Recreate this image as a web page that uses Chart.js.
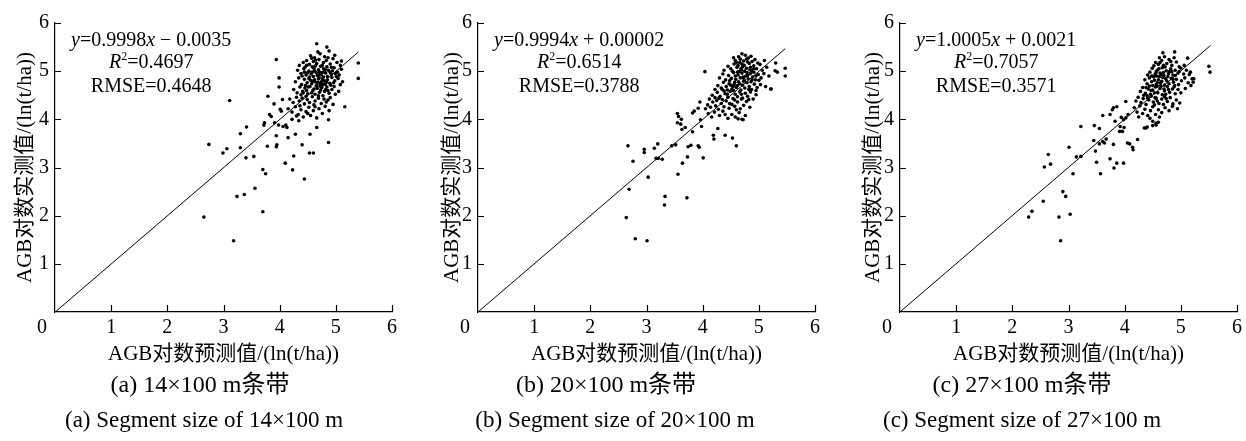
<!DOCTYPE html>
<html>
<head>
<meta charset="utf-8">
<title>AGB scatter</title>
<script src="https://cdn.jsdelivr.net/npm/chart.js@4.4.1/dist/chart.umd.min.js"></script>
<style>
  body { margin: 0; background: #fff; width: 1246px; height: 441px; position: relative; overflow: hidden;
         font-family: 'Liberation Serif', 'Noto Sans CJK SC', serif; color: #000; }
  canvas { position: absolute; top: 0; }
  .cap { position: absolute; transform: translateX(-50%); white-space: nowrap; line-height: 26px; }
  .cn { font-size: 24px; }
  .en { font-size: 23px; }
</style>
</head>
<body>
<canvas id="c0" width="401" height="372" style="left:0px"></canvas>
<canvas id="c1" width="401" height="372" style="left:423px"></canvas>
<canvas id="c2" width="401" height="372" style="left:845px"></canvas>

<div class="cap cn" style="left:200px; top:371px">(a) 14×100 m条带</div>
<div class="cap en" style="left:204px; top:407px">(a) Segment size of 14×100 m</div>
<div class="cap cn" style="left:606px; top:371px">(b) 20×100 m条带</div>
<div class="cap en" style="left:615px; top:407px">(b) Segment size of 20×100 m</div>
<div class="cap cn" style="left:1022px; top:371px">(c) 27×100 m条带</div>
<div class="cap en" style="left:1022px; top:407px">(c) Segment size of 27×100 m</div>

<script>
// axes
const xTicks = [0, 1, 2, 3, 4, 5, 6];
const yTicks = [0, 1, 2, 3, 4, 5, 6];
const xTitle = 'AGB对数预测值/(ln(t/ha))';
const yTitle = 'AGB对数实测值/(ln(t/ha))';

// fitted line y = slope*x + intercept, and stats
const slopes = [0.9998, 0.9994, 1.0005];
const intercepts = [-0.0035, 0.00002, 0.0021];
const r2Text = ['0.4697', '0.6514', '0.7057'];
const rmseText = ['0.4648', '0.3788', '0.3571'];
const lineEnd = [5.40, 5.47, 5.53];

// 14x100 m segments: [predicted, measured]
const ptsA = [
  [2.65,1.97],[3.18,1.48],[2.74,3.48],[2.99,3.30],[3.06,3.39],[3.11,4.39],[3.30,3.70],[3.41,3.84],[3.30,3.41],[3.40,3.20],
  [3.54,3.23],[3.24,2.40],[3.37,2.44],[3.56,2.57],[3.70,2.08],[3.70,2.96],[3.75,2.87],[3.72,3.88],[3.73,3.93],[3.79,4.48],
  [3.78,3.44],[3.82,4.10],[3.85,4.06],[3.94,5.24],[3.99,4.86],[3.99,4.67],[3.90,4.32],[3.91,3.93],[3.94,3.66],[3.95,3.47],
  [3.94,3.43],[3.98,3.88],[4.01,4.21],[4.05,4.41],[4.03,4.17],[4.06,3.85],[4.11,3.88],[4.13,3.83],[4.15,3.62],[4.10,3.09],
  [4.23,2.95],[4.25,3.24],[4.28,3.69],[4.30,4.07],[4.22,4.00],[4.34,3.97],[4.40,3.47],[4.44,2.76],[4.53,3.30],[4.60,3.30],
  [4.54,3.69],[4.66,3.83],[4.87,3.52],[4.87,3.99],[5.16,4.26],[5.40,5.17],[5.40,4.85],[5.10,5.21],[4.66,5.57],[4.84,5.50],
  [4.55,5.32],[4.62,5.28],[4.72,5.36],[4.80,5.30],[4.88,5.42],[4.98,5.33],[4.68,5.40],
  [4.35,5.12],[4.42,5.18],[4.48,5.22],[4.53,5.14],[4.60,5.20],[4.66,5.16],[4.70,5.24],[4.76,5.12],[4.83,5.22],[4.90,5.15],
  [4.95,5.26],[5.02,5.18],[4.45,5.08],[4.57,5.27],[4.73,5.10],[4.86,5.28],[5.08,5.12],[4.64,5.11],
  [4.32,5.02],[4.38,4.95],[4.43,5.05],[4.47,4.92],[4.52,5.00],[4.56,4.94],[4.61,5.06],[4.65,4.97],[4.69,5.03],[4.74,4.92],
  [4.78,5.05],[4.82,4.96],[4.87,5.02],[4.92,4.93],[4.97,5.07],[5.03,4.98],[5.10,5.04],[4.40,4.90],[4.58,5.09],[4.71,4.98],
  [4.84,5.09],[4.99,4.95],[4.50,4.97],[4.67,4.91],[4.80,4.99],[4.94,5.01],[5.06,4.92],
  [4.28,4.78],[4.34,4.86],[4.39,4.72],[4.44,4.83],[4.49,4.76],[4.53,4.88],[4.57,4.74],[4.62,4.82],[4.66,4.71],[4.70,4.86],
  [4.74,4.78],[4.78,4.88],[4.81,4.73],[4.85,4.82],[4.89,4.75],[4.93,4.87],[4.98,4.80],[5.04,4.85],[5.12,4.78],[4.46,4.70],
  [4.60,4.89],[4.68,4.77],[4.76,4.84],[4.83,4.77],[4.91,4.71],[4.72,4.74],[4.63,4.78],[4.79,4.80],[4.55,4.81],[5.08,4.72],
  [4.25,4.62],[4.31,4.55],[4.36,4.67],[4.41,4.58],[4.45,4.65],[4.50,4.53],[4.54,4.68],[4.59,4.60],[4.63,4.52],[4.67,4.64],
  [4.71,4.56],[4.75,4.66],[4.80,4.58],[4.84,4.67],[4.88,4.54],[4.93,4.62],[4.97,4.68],[5.05,4.58],[4.38,4.51],[4.48,4.60],
  [4.57,4.55],[4.73,4.61],[4.86,4.60],[4.99,4.52],[4.65,4.69],
  [4.18,4.42],[4.24,4.35],[4.30,4.46],[4.35,4.38],[4.40,4.44],[4.44,4.32],[4.49,4.41],[4.53,4.35],[4.58,4.47],[4.63,4.38],
  [4.69,4.44],[4.74,4.33],[4.79,4.42],[4.83,4.36],[4.90,4.45],[4.95,4.31],[4.47,4.48],[4.61,4.30],[4.77,4.49],[4.86,4.40],
  [4.15,4.22],[4.22,4.15],[4.28,4.26],[4.33,4.10],[4.38,4.20],[4.42,4.05],[4.47,4.16],[4.52,4.25],[4.55,4.08],[4.60,4.18],
  [4.66,4.03],[4.70,4.22],[4.76,4.12],[4.81,4.27],[4.88,4.18],[4.50,4.12],[4.36,4.28],[4.63,4.26],
  [4.58,4.98],[4.62,5.01],[4.70,4.93],[4.76,4.97],[4.81,5.03],[4.52,4.85],[4.59,4.79],[4.69,4.84],[4.77,4.72],[4.85,4.89],
  [4.90,4.97],[4.44,4.98],[4.48,5.12],[4.64,5.23],[4.78,5.18],[4.92,5.08],[5.01,4.89],[4.96,4.76],[4.73,4.68],[4.51,4.67],
  [4.42,4.55],[4.61,4.63],[4.82,4.62],[4.69,4.49]
];

// 20x100 m segments
const ptsB = [
  [2.64,1.96],[2.80,1.52],[3.01,1.48],[2.67,3.45],[2.76,3.13],[2.69,2.55],[2.96,3.38],[2.96,3.31],[3.14,3.40],[3.20,3.49],
  [3.17,3.19],[3.21,3.19],[3.28,3.17],[3.03,2.80],[3.33,2.40],[3.32,2.22],[3.72,2.37],[3.45,3.45],[3.52,3.47],[3.56,2.86],
  [3.64,3.09],[3.73,3.22],[3.74,3.43],[3.79,3.46],[3.92,3.45],[3.94,3.42],[4.01,3.20],[3.55,4.12],[3.57,4.06],[3.62,4.00],
  [3.61,3.90],[3.55,3.93],[3.63,3.79],[3.69,3.83],[3.82,3.74],[3.82,4.13],[3.85,4.17],[3.95,4.36],[3.92,4.23],[3.96,3.99],
  [3.98,3.85],[4.04,4.99],[4.19,3.67],[4.20,3.59],[4.27,3.81],[4.40,3.67],[4.53,3.61],[4.60,3.45],[4.72,3.99],[5.22,4.63],
  [5.29,5.01],[5.33,4.98],[5.47,5.06],[5.47,4.90],[5.30,5.17],
  [4.58,5.22],[4.64,5.30],[4.70,5.36],[4.76,5.33],[4.81,5.27],[4.86,5.31],[4.93,5.24],[4.67,5.25],[4.73,5.21],[4.88,5.20],
  [5.10,5.22],[4.55,5.28],
  [4.38,5.02],[4.45,5.10],[4.50,5.05],[4.56,5.15],[4.61,5.08],[4.66,5.18],[4.69,5.03],[4.74,5.12],[4.78,5.06],[4.83,5.16],
  [4.87,5.01],[4.91,5.11],[4.96,5.05],[5.02,5.14],[5.06,5.02],[5.14,5.08],[4.53,5.00],[4.63,5.12],[4.80,5.19],[4.98,5.17],
  [4.71,5.09],[4.85,5.08],
  [4.30,4.86],[4.36,4.94],[4.41,4.82],[4.46,4.91],[4.51,4.85],[4.55,4.97],[4.59,4.83],[4.63,4.92],[4.67,4.86],[4.70,4.96],
  [4.74,4.81],[4.77,4.90],[4.81,4.84],[4.85,4.95],[4.89,4.88],[4.94,4.82],[4.99,4.93],[5.04,4.86],[5.09,4.95],[5.18,4.90],
  [4.48,4.80],[4.65,4.99],[4.72,4.88],[4.79,4.97],[4.91,4.98],[5.00,4.81],[4.58,4.90],
  [4.22,4.62],[4.27,4.70],[4.33,4.65],[4.37,4.77],[4.42,4.68],[4.47,4.74],[4.52,4.63],[4.56,4.72],[4.60,4.66],[4.64,4.78],
  [4.68,4.61],[4.71,4.71],[4.75,4.65],[4.79,4.76],[4.83,4.68],[4.87,4.62],[4.92,4.73],[4.97,4.66],[5.03,4.72],[5.12,4.68],
  [5.21,4.63],[4.44,4.61],[4.62,4.70],[4.73,4.79],[4.86,4.78],[4.95,4.60],[4.54,4.68],
  [4.12,4.42],[4.17,4.50],[4.22,4.45],[4.26,4.56],[4.31,4.48],[4.35,4.41],[4.40,4.53],[4.45,4.46],[4.49,4.58],[4.54,4.43],
  [4.58,4.52],[4.62,4.47],[4.66,4.57],[4.71,4.44],[4.76,4.54],[4.80,4.48],[4.85,4.57],[4.90,4.42],[4.95,4.51],[4.38,4.59],
  [4.57,4.40],[4.69,4.52],[4.82,4.41],
  [4.05,4.22],[4.09,4.30],[4.14,4.25],[4.18,4.36],[4.23,4.28],[4.28,4.21],[4.33,4.33],[4.38,4.26],[4.42,4.38],[4.47,4.23],
  [4.52,4.31],[4.57,4.27],[4.62,4.36],[4.67,4.22],[4.73,4.29],[4.78,4.37],[4.84,4.25],[4.25,4.39],[4.60,4.20],
  [4.10,4.12],[4.16,4.05],[4.21,4.15],[4.30,4.08],[4.36,4.17],[4.45,4.02],[4.52,4.10],[4.58,4.05],[4.65,4.14],[4.70,4.00],
  [4.76,4.08],[4.63,4.01],[4.40,4.10],
  [4.62,4.98],[4.68,5.05],[4.75,5.00],[4.80,4.91],[4.84,5.03],[4.88,4.82],[4.73,4.86],[4.66,4.74],[4.57,4.77],[4.91,5.05],
  [4.95,4.90],[4.70,5.15],[4.60,5.18],[4.78,5.25],[4.50,4.71],[4.44,4.52],[4.35,4.62],[4.29,4.44],[4.48,4.33],[4.55,4.60],
  [4.82,4.62],[4.69,4.42]
];

// 27x100 m segments
const ptsC = [
  [2.29,1.97],[2.35,2.09],[2.55,2.30],[2.57,3.01],[2.64,3.27],[2.68,3.07],[2.83,1.97],[2.86,1.48],[2.90,2.50],[2.95,2.40],
  [3.03,2.03],[3.01,3.42],[3.08,2.87],[3.14,3.22],[3.22,3.23],[3.22,3.85],[3.46,3.87],[3.55,3.81],[3.45,3.56],[3.48,3.34],
  [3.50,3.11],[3.57,2.87],[3.55,3.49],[3.61,3.54],[3.64,3.51],[3.67,3.59],[3.61,4.08],[3.74,3.18],[3.80,3.48],[3.81,2.99],
  [3.86,3.09],[3.98,3.09],[3.78,4.20],[3.80,4.24],[3.86,4.26],[3.74,4.10],[3.83,3.96],[3.94,4.04],[3.98,3.99],[4.02,4.03],
  [4.06,4.10],[3.92,3.85],[3.99,3.83],[4.02,4.37],[4.05,3.51],[4.09,3.49],[4.14,3.42],[4.15,3.37],[4.23,3.58],[3.91,3.75],
  [3.96,3.75],[4.38,3.82],[4.50,3.87],[4.56,3.92],[5.50,5.10],[5.52,4.98],[5.22,4.77],[5.23,4.84],[5.15,4.93],[5.12,5.27],
  [4.89,5.40],[4.68,5.38],
  [4.55,5.18],[4.62,5.28],[4.66,5.22],[4.71,5.30],[4.75,5.16],[4.79,5.24],[4.84,5.12],[4.60,5.14],[4.69,5.12],[4.92,5.19],
  [4.88,5.28],[5.06,5.12],[4.52,5.11],
  [4.45,4.98],[4.49,5.06],[4.54,4.93],[4.58,5.02],[4.63,4.96],[4.67,5.07],[4.70,4.91],[4.74,5.01],[4.78,4.95],[4.82,5.05],
  [4.86,4.92],[4.90,5.02],[4.95,4.96],[5.00,5.06],[5.05,4.94],[5.10,5.02],[5.17,4.98],[4.41,4.92],[4.57,4.90],[4.72,5.09],
  [4.97,5.09],[4.65,4.93],[4.84,4.99],
  [4.36,4.82],[4.40,4.74],[4.44,4.86],[4.48,4.78],[4.52,4.88],[4.56,4.72],[4.60,4.82],[4.64,4.76],[4.68,4.87],[4.71,4.71],
  [4.75,4.80],[4.79,4.74],[4.83,4.85],[4.87,4.77],[4.92,4.83],[4.96,4.72],[5.01,4.80],[5.07,4.86],[5.13,4.76],[5.20,4.84],
  [4.50,4.70],[4.62,4.89],[4.77,4.89],[4.89,4.70],[4.66,4.79],[4.53,4.81],
  [4.28,4.58],[4.32,4.66],[4.37,4.54],[4.42,4.63],[4.46,4.52],[4.50,4.61],[4.55,4.67],[4.59,4.55],[4.63,4.64],[4.67,4.51],
  [4.71,4.59],[4.76,4.68],[4.80,4.56],[4.85,4.63],[4.90,4.53],[4.95,4.62],[5.00,4.55],[5.08,4.64],[5.18,4.70],[4.34,4.50],
  [4.58,4.69],[4.73,4.52],[4.88,4.67],[4.44,4.69],
  [4.20,4.38],[4.24,4.46],[4.29,4.35],[4.33,4.43],[4.38,4.31],[4.43,4.40],[4.47,4.48],[4.51,4.36],[4.56,4.44],[4.61,4.33],
  [4.66,4.42],[4.71,4.47],[4.76,4.37],[4.81,4.45],[4.86,4.32],[4.92,4.40],[4.98,4.34],[4.40,4.49],[4.53,4.30],[4.69,4.31],
  [4.17,4.24],[4.22,4.15],[4.27,4.28],[4.32,4.12],[4.36,4.21],[4.41,4.08],[4.46,4.18],[4.50,4.26],[4.55,4.10],[4.60,4.20],
  [4.66,4.14],[4.72,4.24],[4.79,4.18],[4.85,4.27],[4.94,4.22],[4.25,4.05],[4.45,4.02],[4.62,4.05],
  [4.35,3.82],[4.40,3.84],[4.50,3.96],[4.56,3.88],[4.60,3.94],
  [4.48,4.90],[4.56,4.98],[4.61,5.05],[4.69,4.97],[4.73,4.84],[4.80,4.99],[4.86,4.83],[4.58,4.76],[4.64,4.70],[4.70,4.63],
  [4.78,4.62],[4.53,4.55],[4.47,4.60],[4.41,4.44],[4.58,4.38],[4.74,4.43],[4.90,4.91],[4.97,4.99],[4.63,5.18],[4.82,5.20],
  [4.54,4.45],[4.38,4.66]
];

const panels = [ptsA, ptsB, ptsC];
const yTitleGap = [13, 17, 16];   // title padding from canvas edge per panel

const SERIF = "'Liberation Serif', 'Noto Sans CJK SC', serif";
Chart.defaults.font.family = SERIF;
const tickFont = { family: SERIF, size: 20 };
const titleFont = { family: SERIF, size: 21 };

// inward tick marks and the shared "0" at the origin
const axisMarks = {
  id: 'axisMarks',
  afterDraw(chart) {
    const { ctx, chartArea: a, scales: { x, y } } = chart;
    ctx.save();
    ctx.strokeStyle = '#000';
    ctx.lineWidth = 1.2;
    ctx.beginPath();
    x.ticks.forEach(t => {
      if (t.value === 0) return;
      const px = Math.round(x.getPixelForValue(t.value)) + 0.5;
      ctx.moveTo(px, a.bottom);
      ctx.lineTo(px, a.bottom - 7);
    });
    y.ticks.forEach(t => {
      if (t.value === 0) return;
      const py = Math.round(y.getPixelForValue(t.value)) + 0.5;
      ctx.moveTo(a.left, py);
      ctx.lineTo(a.left + 6, py);
    });
    ctx.stroke();
    ctx.fillStyle = '#000';
    ctx.font = tickFont.size + 'px ' + SERIF;
    ctx.textAlign = 'center';
    ctx.textBaseline = 'middle';
    ctx.fillText('0', a.left - 13, a.bottom + 16);
    ctx.restore();
  }
};

// regression equation, R2 and RMSE in the upper left
function runWidth(ctx, parts) {
  let w = 0;
  parts.forEach(p => {
    ctx.font = (p.it ? 'italic ' : '') + (p.sup ? 12 : 20) + 'px ' + SERIF;
    w += ctx.measureText(p.t).width;
  });
  return w;
}
function drawRun(ctx, parts, cx, cy) {
  let x = cx - runWidth(ctx, parts) / 2;
  parts.forEach(p => {
    ctx.font = (p.it ? 'italic ' : '') + (p.sup ? 12 : 20) + 'px ' + SERIF;
    ctx.fillText(p.t, x, p.sup ? cy - 6 : cy);
    x += ctx.measureText(p.t).width;
  });
}
const fitText = {
  id: 'fitText',
  afterDraw(chart, args, opts) {
    const i = opts.idx;
    const { ctx, chartArea: a } = chart;
    const b = intercepts[i];
    const eq = [
      { t: 'y', it: true },
      { t: '=' + slopes[i].toFixed(4) },
      { t: 'x', it: true },
      { t: (b < 0 ? ' − ' : ' + ') + Math.abs(b) }
    ];
    const r2 = [{ t: 'R', it: true }, { t: '2', sup: true }, { t: '=' + r2Text[i] }];
    const rm = [{ t: 'RMSE=' + rmseText[i] }];
    ctx.save();
    ctx.fillStyle = '#000';
    ctx.textAlign = 'left';
    ctx.textBaseline = 'middle';
    const cx = a.left + 16 + runWidth(ctx, eq) / 2;
    drawRun(ctx, eq, cx, a.top + 18);
    drawRun(ctx, r2, cx, a.top + 40);
    drawRun(ctx, rm, cx, a.top + 64);
    ctx.restore();
  }
};

panels.forEach((pts, i) => {
  new Chart(document.getElementById('c' + i), {
    type: 'scatter',
    data: {
      datasets: [{
        data: pts.map(p => ({ x: p[0], y: p[1] })),
        pointRadius: 1.8,
        pointBorderWidth: 0,
        backgroundColor: '#000'
      }, {
        data: [
          { x: 0, y: intercepts[i] },
          { x: lineEnd[i], y: slopes[i] * lineEnd[i] + intercepts[i] }
        ],
        showLine: true,
        pointRadius: 0,
        borderColor: '#000',
        borderWidth: 1
      }]
    },
    options: {
      responsive: false,
      animation: false,
      layout: { padding: { top: 23, right: 5, bottom: 0, left: 0 } },
      plugins: {
        legend: { display: false },
        tooltip: { enabled: false },
        fitText: { idx: i }
      },
      scales: {
        x: {
          type: 'linear',
          min: xTicks[0],
          max: xTicks[xTicks.length - 1],
          afterBuildTicks: s => { s.ticks = xTicks.map(v => ({ value: v })); },
          afterFit: s => { s.height = 60; },
          ticks: {
            color: '#000', font: tickFont, padding: 4, maxRotation: 0,
            callback: v => (v === 0 ? '' : String(v))
          },
          grid: { display: false, drawTicks: false },
          border: { display: true, color: '#000', width: 1.2 },
          title: {
            display: true, text: xTitle, color: '#000', font: titleFont,
            padding: { top: 0, bottom: 5 }
          }
        },
        y: {
          type: 'linear',
          min: yTicks[0],
          max: yTicks[yTicks.length - 1],
          afterBuildTicks: s => { s.ticks = yTicks.map(v => ({ value: v })); },
          afterFit: s => { s.width = 55; },
          ticks: {
            color: '#000', font: tickFont, padding: 6,
            callback: v => (v === 0 ? '' : String(v))
          },
          grid: { display: false, drawTicks: false },
          border: { display: true, color: '#000', width: 1.2 },
          title: {
            display: true, text: yTitle, color: '#000', font: titleFont,
            padding: { top: yTitleGap[i], bottom: 0 }
          }
        }
      }
    },
    plugins: [axisMarks, fitText]
  });
});
</script>
</body>
</html>
